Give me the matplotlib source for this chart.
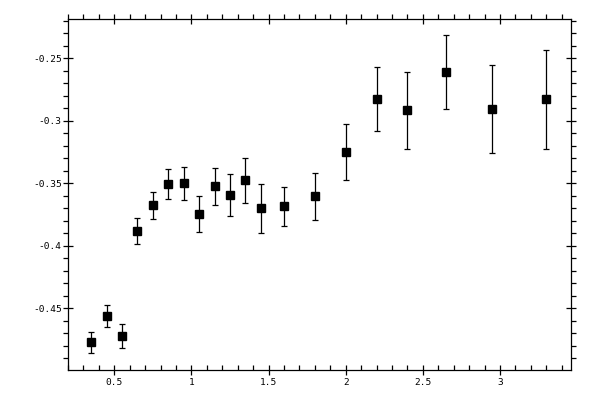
import numpy as np
import matplotlib
matplotlib.use("Agg")
import matplotlib.pyplot as plt
from matplotlib.ticker import MultipleLocator

# values
x_vals = [0.35, 0.45, 0.55, 0.65, 0.75, 0.85, 0.95, 1.05, 1.15, 1.25,
          1.35, 1.45, 1.6, 1.8, 2.0, 2.2, 2.4, 2.65, 2.95, 3.3]
y_vals = [-0.4772, -0.4562, -0.4722, -0.3884, -0.3676, -0.3508, -0.3500, -0.3748, -0.3524, -0.3596,
          -0.3476, -0.3700, -0.3684, -0.3604, -0.3252, -0.2828, -0.2916, -0.2612, -0.2908, -0.2828]
y_err = [0.0086, 0.0087, 0.0095, 0.0103, 0.0110, 0.0120, 0.0130, 0.0143, 0.0150, 0.0167,
         0.0181, 0.0195, 0.0156, 0.0188, 0.0224, 0.0256, 0.0308, 0.0296, 0.0353, 0.0396]

x_ticks = [0.5, 1, 1.5, 2, 2.5, 3]
x_labels = ["0.5", "1", "1.5", "2", "2.5", "3"]
y_ticks = [-0.45, -0.4, -0.35, -0.3, -0.25]
y_labels = ["-0.45", "-0.4", "-0.35", "-0.3", "-0.25"]

fig = plt.figure(figsize=(6, 4), dpi=100)
ax = fig.add_axes([68 / 600, 1 - 370 / 400, (571 - 68) / 600, (370 - 19.3) / 400])

ax.errorbar(x_vals, y_vals, yerr=y_err, fmt="s", color="black", ms=5.8,
            elinewidth=0.9, capsize=2.4, capthick=0.9, mec="black", mfc="black")

ax.set_xlim(0.2, 3.46)
ax.set_ylim(-0.4994, -0.2188)

ax.set_xticks(x_ticks)
ax.set_xticklabels(x_labels)
ax.set_yticks(y_ticks)
ax.set_yticklabels(y_labels)
ax.xaxis.set_minor_locator(MultipleLocator(0.1))
ax.yaxis.set_minor_locator(MultipleLocator(0.01))

ax.tick_params(which="both", top=True, right=True, width=0.9, colors="black",
               labelsize=6.8, labelfontfamily="DejaVu Sans Mono")
ax.tick_params(which="major", direction="inout", length=7)
ax.tick_params(which="minor", direction="out", length=3.3)
ax.tick_params(axis="x", which="minor", bottom=True, top=True)
ax.tick_params(axis="x", which="major", pad=2)
ax.tick_params(axis="y", which="major", pad=1)

# bottom minor ticks point inward in the reference
for t in ax.xaxis.get_minor_ticks():
    t.tick1line.set_marker(2)

for s in ax.spines.values():
    s.set_linewidth(0.9)

fig.savefig("out.png", dpi=100)
